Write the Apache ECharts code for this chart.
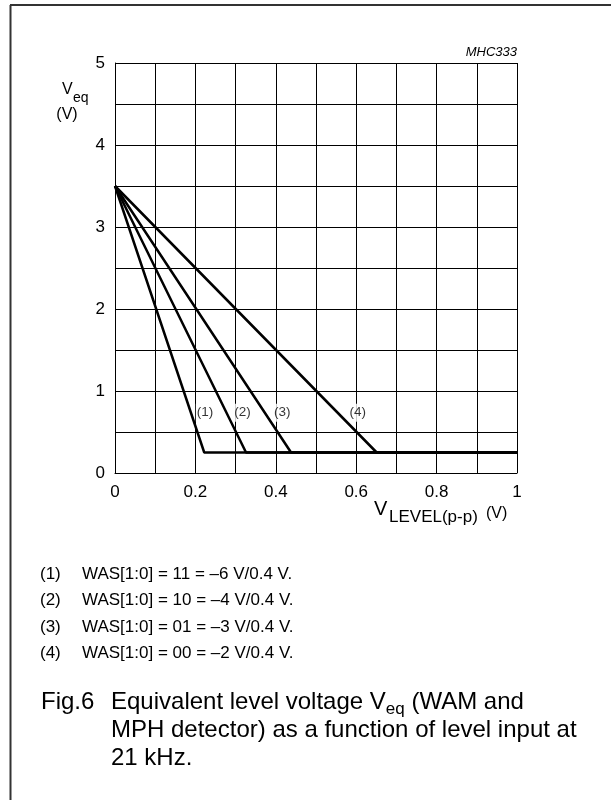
<!DOCTYPE html>
<html>
<head>
<meta charset="utf-8">
<script src="https://cdn.jsdelivr.net/npm/echarts@6/dist/echarts.min.js"></script>
<style>
html,body{margin:0;padding:0;background:#fff;}
#chart{width:611px;height:800px;}
</style>
</head>
<body>
<div id="chart"></div>
<script>
// ---- data ----
var xTickLabels = ['0', '0.2', '0.4', '0.6', '0.8', '1'];
var yTickLabels = ['0', '1', '2', '3', '4', '5'];
var curve1 = [[0, 3.5], [0.222, 0.25], [1, 0.25]];
var curve2 = [[0, 3.5], [0.326, 0.25], [1, 0.25]];
var curve3 = [[0, 3.5], [0.438, 0.25], [1, 0.25]];
var curve4 = [[0, 3.5], [0.651, 0.25], [1, 0.25]];
var curveNames = ['(1)', '(2)', '(3)', '(4)'];
var curveLabelPos = [[0.224, 0.735], [0.317, 0.735], [0.416, 0.735], [0.604, 0.735]];
var footnotes = [
  ['(1)', 'WAS[1:0] = 11 = \u20136 V/0.4 V.'],
  ['(2)', 'WAS[1:0] = 10 = \u20134 V/0.4 V.'],
  ['(3)', 'WAS[1:0] = 01 = \u20133 V/0.4 V.'],
  ['(4)', 'WAS[1:0] = 00 = \u20132 V/0.4 V.']
];

var FONT = '"Liberation Sans", Arial, Helvetica, sans-serif';
var chart = echarts.init(document.getElementById('chart'));

function lineSeries(d) {
  return {
    type: 'line', data: d, symbol: 'none', silent: true,
    lineStyle: { color: '#000', width: 2.5 }, z: 5, animation: false
  };
}
function txt(t, x, y, size, align, extra) {
  var s = { text: t, x: x, y: y, textAlign: align || 'left', textVerticalAlign: 'middle', font: size + 'px ' + FONT, fill: '#000' };
  if (extra) { for (var k in extra) s[k] = extra[k]; }
  return { type: 'text', style: s, z: 10 };
}

var graphics = [
  { type: 'line', shape: { x1: 10.5, y1: 5, x2: 10.5, y2: 800 }, style: { stroke: '#333', lineWidth: 2 } },
  { type: 'line', shape: { x1: 10, y1: 5, x2: 611, y2: 5 }, style: { stroke: '#333', lineWidth: 2 } },
  txt('MHC333', 517, 52, 13, 'right', { font: 'italic 13px ' + FONT }),
  txt('V', 62, 90, 16),
  txt('eq', 73, 98, 14),
  txt('(V)', 67, 115, 16, 'center'),
  txt('V', 374, 509, 20),
  txt('LEVEL(p-p)', 389, 517, 17),
  txt('(V)', 486, 514, 16)
];
footnotes.forEach(function (f, i) {
  var y = 574 + i * 26.5;
  graphics.push(txt(f[0], 40, y, 17));
  graphics.push(txt(f[1], 82, y, 17));
});
graphics.push(txt('Fig.6', 41, 702, 24));
graphics.push(txt('Equivalent level voltage V{sub|eq} (WAM and', 111, 702, 24, 'left', {
  rich: { sub: { fontSize: 17, fontFamily: FONT, padding: [14, 0, 0, 0], fill: '#000' } }
}));
graphics.push(txt('MPH detector) as a function of level input at', 111, 730, 24));
graphics.push(txt('21 kHz.', 111, 758, 24));

var option = {
  animation: false,
  backgroundColor: '#fff',
  grid: { left: 115, right: 94, top: 63, bottom: 327, containLabel: false },
  xAxis: {
    type: 'value', min: 0, max: 1, interval: 0.1,
    axisLine: { show: true, lineStyle: { color: '#000', width: 1 } },
    axisTick: { show: false },
    splitLine: { show: true, lineStyle: { color: '#000', width: 1 } },
    axisLabel: {
      margin: 11, color: '#000', fontSize: 17, fontFamily: FONT,
      formatter: function (v) {
        var idx = Math.round(v * 10);
        return idx % 2 === 0 ? xTickLabels[idx / 2] : '';
      }
    }
  },
  yAxis: {
    type: 'value', min: 0, max: 5, interval: 0.5,
    axisLine: { show: true, lineStyle: { color: '#000', width: 1 } },
    axisTick: { show: false },
    splitLine: { show: true, lineStyle: { color: '#000', width: 1 } },
    axisLabel: {
      margin: 10, color: '#000', fontSize: 17, fontFamily: FONT,
      formatter: function (v) {
        var idx = Math.round(v * 2);
        return idx % 2 === 0 ? yTickLabels[idx / 2] : '';
      }
    }
  },
  series: [
    lineSeries(curve1), lineSeries(curve2), lineSeries(curve3), lineSeries(curve4),
    {
      type: 'scatter', symbolSize: 0, silent: true, z: 3,
      data: curveLabelPos.map(function (p, i) { return { value: p, name: curveNames[i] }; }),
      label: {
        show: true, position: 'inside', color: '#000', fontSize: 13.5, fontFamily: FONT,
        backgroundColor: '#fff', padding: [2, 1],
        formatter: function (p) { return p.name; }
      }
    }
  ],
  graphic: graphics
};
chart.setOption(option);
</script>
</body>
</html>
